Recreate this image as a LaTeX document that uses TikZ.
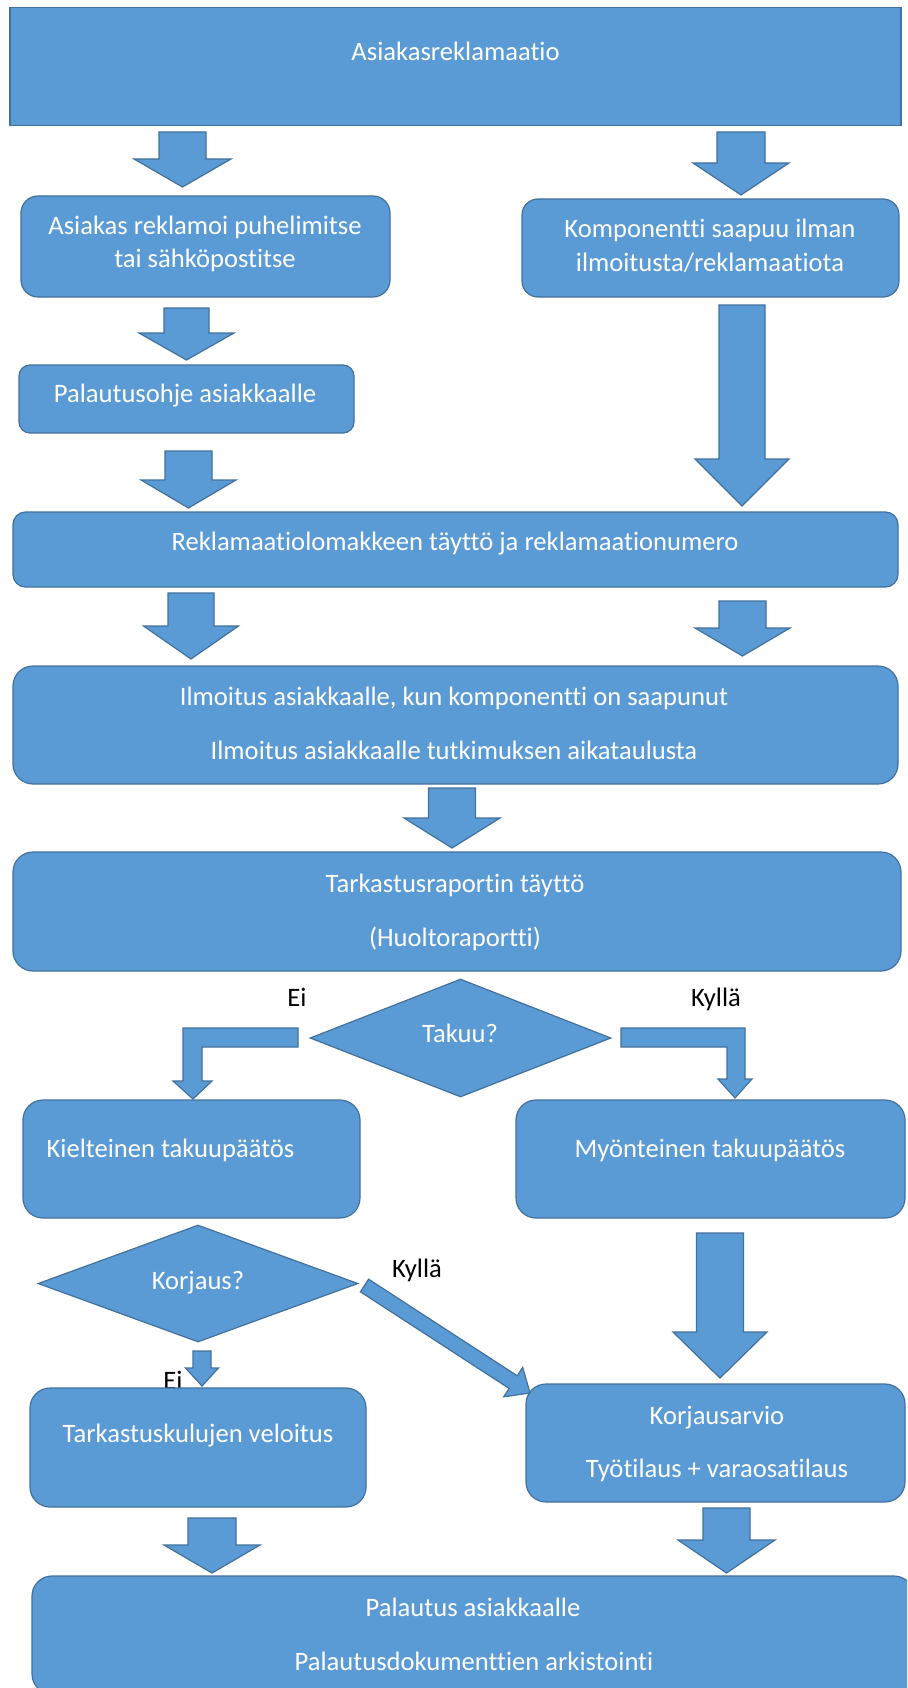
\documentclass[tikz,border=0pt]{standalone}
\usepackage{fontspec}
\setmainfont{Carlito}[Ligatures=NoCommon]
\usetikzlibrary{shapes.geometric}
\definecolor{boxc}{HTML}{5B9BD5}
\definecolor{bordc}{HTML}{41719C}
% block arrow pointing down: cx, top, headstart, tip, halfshaft, halfhead
\newcommand\blockdown[6]{%
  \filldraw[arr] (#1-#5,#2) -- (#1+#5,#2) -- (#1+#5,#3) -- (#1+#6,#3) -- (#1,#4) -- (#1-#6,#3) -- (#1-#5,#3) -- cycle;}
\begin{document}
\begin{tikzpicture}[x=1pt,y=-1pt,
  box/.style={draw=bordc,fill=boxc,line width=1.2pt,inner sep=0pt,rectangle},
  dia/.style={draw=bordc,fill=boxc,line width=1.2pt,inner sep=0pt,diamond},
  arr/.style={draw=bordc,fill=boxc,line width=1.2pt,line join=miter},
  txt/.style={text=white,font=\fontsize{26.6pt}{32pt}\selectfont,anchor=base,inner sep=0pt},
  lbl/.style={txt,text=black}]
\clip (0,0) rectangle (907,1688);
\fill[white] (0,0) rectangle (907,1688);

% boxes
\node[box,minimum width=891pt,minimum height=118pt] (b1) at (455.5,66.5) {};
\node[box,rounded corners=17pt,minimum width=369pt,minimum height=101pt] (b2) at (205.5,246.5) {};
\node[box,rounded corners=16pt,minimum width=377pt,minimum height=98pt] (b3) at (710.5,248) {};
\node[box,rounded corners=11pt,minimum width=335pt,minimum height=68pt] (b4) at (186.5,399) {};
\node[box,rounded corners=12.5pt,minimum width=885pt,minimum height=75pt] (b5) at (455.5,549.5) {};
\node[box,rounded corners=20pt,minimum width=885pt,minimum height=118pt] (b6) at (455.5,725) {};
\node[box,rounded corners=20pt,minimum width=888pt,minimum height=119pt] (b7) at (457,911.5) {};
\node[dia,minimum width=301pt,minimum height=118pt] (d1) at (460.5,1038) {};
\node[box,rounded corners=20pt,minimum width=337pt,minimum height=118pt] (b8) at (191.5,1159) {};
\node[box,rounded corners=20pt,minimum width=389pt,minimum height=118pt] (b9) at (710.5,1159) {};
\node[dia,minimum width=320pt,minimum height=117pt] (d2) at (198,1283.5) {};
\node[lbl] (l5) at (173,1389) {Ei};
\node[box,rounded corners=20pt,minimum width=336pt,minimum height=119pt] (b10) at (198,1447.5) {};
\node[box,rounded corners=20pt,minimum width=379pt,minimum height=118pt] (b11) at (715.5,1443) {};
\node[box,rounded corners=20pt,minimum width=882pt,minimum height=118pt] (b12) at (473,1635) {};

% block arrows
\blockdown{182.5}{132}{159}{187}{23.5}{48.5}
\blockdown{741}{132}{163}{195}{24}{48}
\blockdown{186.5}{308}{333}{360}{22.5}{47.5}
\blockdown{188.5}{451}{480}{508}{23.5}{47.5}
\blockdown{742}{305}{459}{506}{23}{47}
\blockdown{191}{593}{626}{659}{23}{47.5}
\blockdown{742.5}{601}{628}{656}{23.5}{47.5}
\blockdown{452}{788}{818}{848}{23.5}{48}
\blockdown{720}{1233}{1332}{1378}{23.5}{47}
\blockdown{212}{1518}{1545}{1573}{24}{48}
\blockdown{726.5}{1508}{1540}{1573}{23.5}{48.5}
\blockdown{202}{1351}{1368}{1386}{9}{16.5}
% bent arrows from Takuu?
\filldraw[arr] (298,1028) -- (183,1028) -- (183,1081) -- (173,1081) -- (193,1099) -- (212,1081) -- (202,1081) -- (202,1047) -- (298,1047) -- cycle;
\filldraw[arr] (621,1028) -- (745,1028) -- (745,1079) -- (752,1079) -- (735,1098) -- (718,1079) -- (727,1079) -- (727,1047) -- (621,1047) -- cycle;
% diagonal arrow from Korjaus?
\filldraw[arr] (368.6,1279.2) -- (517.3,1375.8) -- (522.7,1367.4) -- (530,1393) -- (503.7,1396.8) -- (509.1,1388.4) -- (360.4,1291.8) -- cycle;

% texts
\node[txt] (t1) at (455.5,61) {Asiakasreklamaatio};
\node[txt] (t2a) at (205,235) {Asiakas reklamoi puhelimitse};
\node[txt] (t2b) at (205,268) {tai sähköpostitse};
\node[txt] (t3a) at (710,238) {Komponentti saapuu ilman};
\node[txt] (t3b) at (710,271) {ilmoitusta/reklamaatiota};
\node[txt] (t4) at (185,402) {Palautusohje asiakkaalle};
\node[txt] (t5) at (455,550) {Reklamaatiolomakkeen täyttö ja reklamaationumero};
\node[txt] (t6a) at (454,705) {Ilmoitus asiakkaalle, kun komponentti on saapunut};
\node[txt] (t6b) at (454,759) {Ilmoitus asiakkaalle tutkimuksen aikataulusta};
\node[txt] (t7a) at (455,892) {Tarkastusraportin täyttö};
\node[txt] (t7b) at (455,946) {(Huoltoraportti)};
\node[txt] (td1) at (460,1042) {Takuu?};
\node[lbl] (l1) at (297,1006) {Ei};
\node[lbl] (l2) at (716,1006) {Kyllä};
\node[txt] (t8) at (170.5,1157) {Kielteinen takuupäätös};
\node[txt] (t9) at (710,1157) {Myönteinen takuupäätös};
\node[txt] (td2) at (198,1289) {Korjaus?};
\node[lbl] (l3) at (417,1277) {Kyllä};
\node[txt] (t10) at (198,1442) {Tarkastuskulujen veloitus};
\node[txt] (t11a) at (717,1424) {Korjausarvio};
\node[txt] (t11b) at (717,1477) {Työtilaus + varaosatilaus};
\node[txt] (t12a) at (473,1616) {Palautus asiakkaalle};
\node[txt] (t12b) at (474,1670) {Palautusdokumenttien arkistointi};
\end{tikzpicture}
\end{document}
